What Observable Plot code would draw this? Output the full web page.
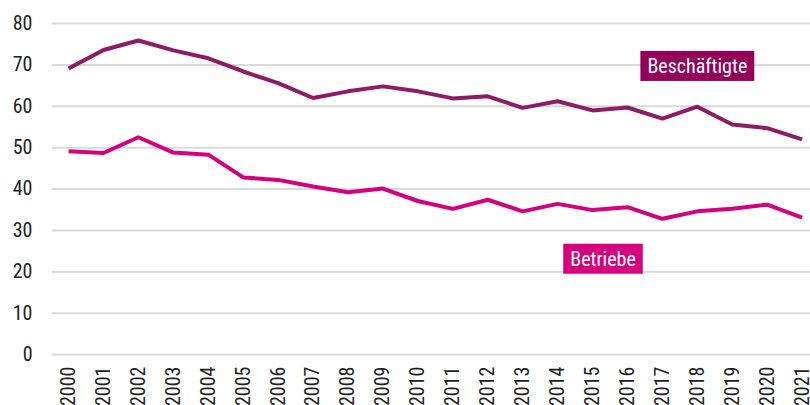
<!DOCTYPE html>
<html>
<head>
<meta charset="utf-8">
<script src="https://cdn.jsdelivr.net/npm/d3@7"></script>
<script src="https://cdn.jsdelivr.net/npm/@observablehq/plot@0.6"></script>
<style>
  html, body { margin: 0; padding: 0; background: #fff; }
  svg { display: block; }
</style>
</head>
<body>
<div id="chart"></div>
<script>
const years = [2000,2001,2002,2003,2004,2005,2006,2007,2008,2009,2010,2011,2012,2013,2014,2015,2016,2017,2018,2019,2020,2021];
const beschaeftigte = [69.1,73.6,75.9,73.5,71.6,68.4,65.6,62.0,63.6,64.8,63.6,61.9,62.4,59.6,61.2,59.0,59.7,57.0,59.9,55.6,54.7,52.0];
const betriebe = [49.1,48.7,52.5,48.8,48.3,42.8,42.2,40.6,39.2,40.1,37.1,35.2,37.4,34.6,36.4,34.9,35.6,32.8,34.6,35.2,36.2,33.1];
const yTicks = [0,10,20,30,40,50,60,70,80];
const seriesNames = ["Beschäftigte", "Betriebe"];
const labelYears = [2018.0, 2015.3];
const labelValues = [69.6, 23.0];

const lineColors = ["#8f1a66", "#d4007d"];
const boxColors = ["#94005a", "#d6007f"];
const FONT = '"Roboto Condensed", "Liberation Sans Narrow", Roboto, sans-serif';
const SQUEEZE = 0.76;

const rows = [];
years.forEach((yr, i) => {
  rows.push({year: yr, value: beschaeftigte[i], series: seriesNames[0]});
  rows.push({year: yr, value: betriebe[i], series: seriesNames[1]});
});
const labels = seriesNames.map((s, i) => ({series: s, year: labelYears[i], value: labelValues[i], box: boxColors[i]}));

const chart = Plot.plot({
  width: 810,
  height: 405,
  marginLeft: 52,
  marginRight: 0,
  marginTop: 23,
  marginBottom: 51,
  style: {fontFamily: FONT, fontSize: "20px", color: "#222", background: "#fff"},
  x: {type: "linear", domain: [1999.54, 2021.24]},
  y: {domain: [0, 80]},
  color: {domain: seriesNames, range: lineColors},
  marks: [
    Plot.ruleY(yTicks, {stroke: "#d9d9d9", strokeWidth: 2}),
    Plot.axisY({ticks: yTicks, tickSize: 0, tickPadding: 20, fontSize: 20, label: null}),
    Plot.axisX({ticks: years, tickFormat: d => String(d), tickRotate: -90, tickSize: 0, tickPadding: 12, fontSize: 20, label: null}),
    Plot.line(rows, {x: "year", y: "value", z: "series", stroke: "series", strokeWidth: 4, strokeLinejoin: "miter", strokeLinecap: "butt"}),
    Plot.text(labels, {x: "year", y: "value", text: "series", fill: "white", fontSize: 20, textAnchor: "middle", lineAnchor: "middle", className: "serieslabel"})
  ]
});

document.getElementById("chart").appendChild(chart);

// narrow the glyphs to mimic the condensed typeface of the original
const canCondense = (() => {
  const c = document.createElement("canvas").getContext("2d");
  c.font = '20px "Roboto Condensed", "Liberation Sans Narrow", monospace';
  const a = c.measureText("2000").width;
  c.font = "20px monospace";
  const b = c.measureText("2000").width;
  return a !== b;
})();
if (!canCondense) {
  chart.querySelectorAll("text").forEach(t => {
    const len = t.getComputedTextLength();
    if (len > 0) {
      t.setAttribute("textLength", (len * SQUEEZE).toFixed(2));
      t.setAttribute("lengthAdjust", "spacingAndGlyphs");
    }
  });
}

// draw label background boxes sized from rendered text
const g = chart.querySelector("g.serieslabel");
if (g) {
  g.querySelectorAll("text").forEach((t, i) => {
    const bb = t.getBBox();
    const rect = document.createElementNS("http://www.w3.org/2000/svg", "rect");
    const padX = 7, padY = 3;
    rect.setAttribute("x", bb.x - padX);
    rect.setAttribute("y", bb.y - padY);
    rect.setAttribute("width", bb.width + 2 * padX);
    rect.setAttribute("height", bb.height + 2 * padY);
    rect.setAttribute("fill", labels[i].box);
    const tr = t.getAttribute("transform");
    if (tr) rect.setAttribute("transform", tr);
    g.insertBefore(rect, t);
  });
}
</script>
</body>
</html>
